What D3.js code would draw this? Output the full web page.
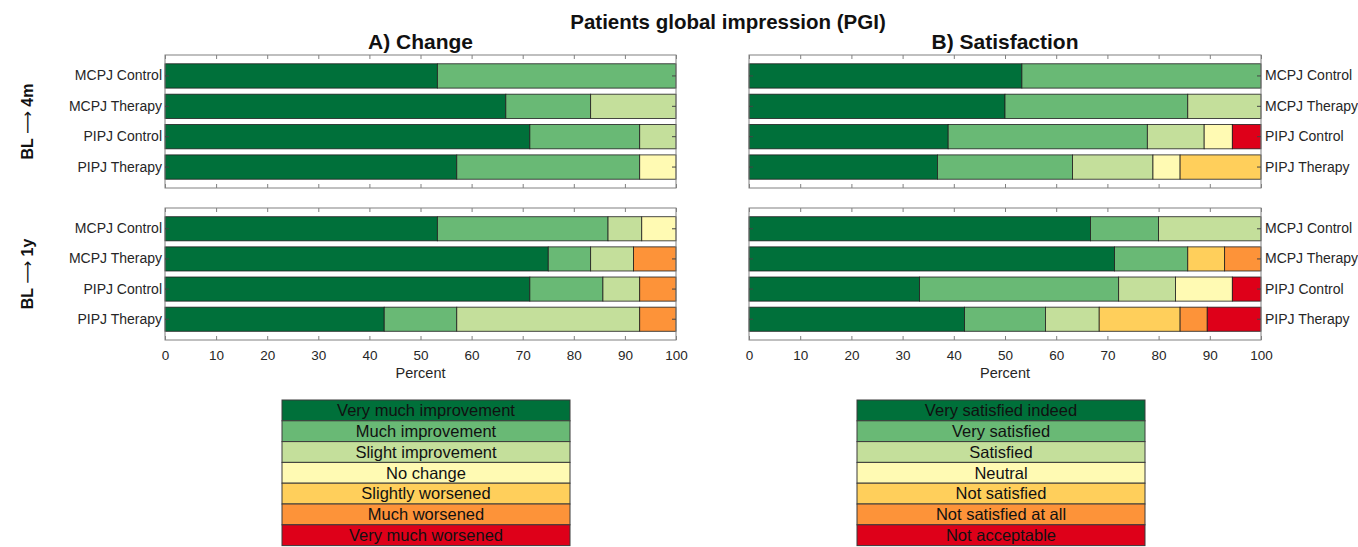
<!DOCTYPE html>
<html>
<head>
<meta charset="utf-8">
<script src="https://cdn.jsdelivr.net/npm/d3@7"></script>
<style>
  body { margin: 0; background: #fff; }
  text { font-family: "Liberation Sans", Arial, sans-serif; }
</style>
</head>
<body>
<div id="chart"></div>
<script>
"use strict";

// groups (rows of each panel)
const groups = ["MCPJ Control", "MCPJ Therapy", "PIPJ Control", "PIPJ Therapy"];

// answer levels, best to worst
const changeLevels = ["Very much improvement", "Much improvement", "Slight improvement",
  "No change", "Slightly worsened", "Much worsened", "Very much worsened"];
const satisfactionLevels = ["Very satisfied indeed", "Very satisfied", "Satisfied",
  "Neutral", "Not satisfied", "Not satisfied at all", "Not acceptable"];

const levelColors = ["#00703a", "#69b975", "#c4df9b", "#fffab3", "#ffcf5b", "#fd9339", "#de0019"];

// percent per level, one row per group
const change4m = [
  [53.3, 46.7, 0, 0, 0, 0, 0],
  [66.7, 16.6, 16.7, 0, 0, 0, 0],
  [71.4, 21.5, 7.1, 0, 0, 0, 0],
  [57.1, 35.8, 0, 7.1, 0, 0, 0]
];
const change1y = [
  [53.3, 33.4, 6.6, 6.7, 0, 0, 0],
  [75.0, 8.3, 8.4, 0, 0, 8.3, 0],
  [71.4, 14.3, 7.2, 0, 0, 7.1, 0],
  [42.9, 14.2, 35.8, 0, 0, 7.1, 0]
];
const satisfaction4m = [
  [53.3, 46.7, 0, 0, 0, 0, 0],
  [50.0, 35.7, 14.3, 0, 0, 0, 0],
  [38.9, 38.9, 11.1, 5.5, 0, 0, 5.6],
  [36.8, 26.4, 15.7, 5.3, 15.8, 0, 0]
];
const satisfaction1y = [
  [66.7, 13.3, 20.0, 0, 0, 0, 0],
  [71.4, 14.3, 0, 0, 7.2, 7.1, 0],
  [33.3, 38.9, 11.1, 11.1, 0, 0, 5.6],
  [42.1, 15.8, 10.5, 0, 15.8, 5.3, 10.5]
];

const xTicks = d3.range(0, 101, 10);

const W = 1358, H = 547;
const svg = d3.select("#chart").append("svg")
  .attr("width", W).attr("height", H);

const axisGrey = "#808080";
const labelColor = "#262626";

// main title + column titles
svg.append("text").attr("x", 728).attr("y", 29)
  .attr("text-anchor", "middle").attr("font-weight", "bold").attr("font-size", 20.5)
  .attr("fill", "#111").text("Patients global impression (PGI)");

const cols = [
  {title: "A) Change", x0: 165, x1: 676, labelSide: "left", levels: changeLevels, data: [change4m, change1y], legendX: 282},
  {title: "B) Satisfaction", x0: 749, x1: 1261, labelSide: "right", levels: satisfactionLevels, data: [satisfaction4m, satisfaction1y], legendX: 857}
];
const rows = [
  {pre: "BL ", post: " 4m", y0: 55, y1: 188, showX: false},
  {pre: "BL ", post: " 1y", y0: 208, y1: 340, showX: true}
];

rows.forEach(function(r) {
  const t = svg.append("text")
    .attr("transform", "translate(27," + ((r.y0 + r.y1) / 2) + ") rotate(-90)")
    .attr("text-anchor", "middle").attr("dy", "0.35em")
    .attr("font-weight", "bold").attr("font-size", 16).attr("fill", "#111");
  t.append("tspan").text(r.pre);
  t.append("tspan").attr("font-family", "DejaVu Sans").attr("font-weight", "normal").text("\u27F6");
  t.append("tspan").text(r.post);
});

const stack = d3.stack().keys(d3.range(7));

cols.forEach(function(c) {
  svg.append("text").attr("x", (c.x0 + c.x1) / 2).attr("y", 49)
    .attr("text-anchor", "middle").attr("font-weight", "bold").attr("font-size", 21)
    .attr("fill", "#111").text(c.title);

  const x = d3.scaleLinear().domain([0, 100]).range([c.x0, c.x1]);

  rows.forEach(function(r, ri) {
    const values = c.data[ri];
    const y = d3.scaleBand().domain(groups).range([r.y0, r.y1])
      .paddingInner(0.2).paddingOuter(0.29);
    const g = svg.append("g");

    g.append("rect").attr("x", c.x0).attr("y", r.y0)
      .attr("width", c.x1 - c.x0).attr("height", r.y1 - r.y0)
      .attr("fill", "#fff");

    const series = stack(values.map(function(v) {
      const o = {};
      v.forEach(function(p, k) { o[k] = p; });
      return o;
    }));

    series.forEach(function(s, k) {
      g.append("g").selectAll("rect")
        .data(s.map(function(d, i) { return {lo: d[0], hi: d[1], group: groups[i]}; })
          .filter(function(d) { return d.hi - d.lo > 0; }))
        .enter().append("rect")
        .attr("x", function(d) { return x(d.lo); })
        .attr("width", function(d) { return x(Math.min(d.hi, 100)) - x(d.lo); })
        .attr("y", function(d) { return y(d.group); })
        .attr("height", y.bandwidth())
        .attr("fill", levelColors[k])
        .attr("stroke", "#1e1e1e").attr("stroke-width", 0.8);
    });

    // box
    g.append("rect").attr("x", c.x0).attr("y", r.y0)
      .attr("width", c.x1 - c.x0).attr("height", r.y1 - r.y0)
      .attr("fill", "none").attr("stroke", axisGrey).attr("stroke-width", 1);

    // x ticks, inward on top and bottom
    const bottomAxis = d3.axisBottom(x).tickValues(xTicks).tickSizeInner(-4).tickSizeOuter(0)
      .tickPadding(10);
    const topAxis = d3.axisTop(x).tickValues(xTicks).tickSizeInner(-4).tickSizeOuter(0)
      .tickFormat("");
    const bx = g.append("g").attr("transform", "translate(0," + r.y1 + ")").call(bottomAxis);
    const tx = g.append("g").attr("transform", "translate(0," + r.y0 + ")").call(topAxis);
    [bx, tx].forEach(function(a) {
      a.select(".domain").remove();
      a.selectAll("line").attr("stroke", axisGrey);
    });
    bx.selectAll("text").attr("font-size", 13.5).attr("fill", labelColor)
      .attr("font-family", "Liberation Sans, Arial, sans-serif");
    if (!r.showX) bx.selectAll("text").remove();

    // y ticks, inward on both sides
    const leftAxis = d3.axisLeft(y).tickSizeInner(-4).tickSizeOuter(0).tickPadding(4);
    const rightAxis = d3.axisRight(y).tickSizeInner(-4).tickSizeOuter(0).tickPadding(4);
    const lx = g.append("g").attr("transform", "translate(" + c.x0 + ",0)").call(leftAxis);
    const rx = g.append("g").attr("transform", "translate(" + c.x1 + ",0)").call(rightAxis);
    [lx, rx].forEach(function(a) {
      a.select(".domain").remove();
      a.selectAll("line").attr("stroke", "#444");
      a.selectAll("text").attr("font-size", 14).attr("fill", labelColor)
        .attr("font-family", "Liberation Sans, Arial, sans-serif");
    });
    if (c.labelSide === "left") rx.selectAll("text").remove();
    else lx.selectAll("text").remove();
    // labels sit just outside the box
    lx.selectAll("text").attr("x", -3);
    rx.selectAll("text").attr("x", 4);

    if (r.showX) {
      g.append("text").attr("x", (c.x0 + c.x1) / 2).attr("y", 378)
        .attr("text-anchor", "middle").attr("font-size", 14.5).attr("fill", labelColor)
        .text("Percent");
    }
  });

  // legend
  const legendW = 288, rowH = 20.8, legendY = 400;
  const lg = svg.append("g").attr("transform", "translate(" + c.legendX + "," + legendY + ")");
  const item = lg.selectAll("g").data(c.levels).enter().append("g")
    .attr("transform", function(d, i) { return "translate(0," + (i * rowH) + ")"; });
  item.append("rect").attr("width", legendW).attr("height", rowH)
    .attr("fill", function(d, i) { return levelColors[i]; })
    .attr("stroke", "#3a3a3a").attr("stroke-width", 1);
  item.append("text").attr("x", legendW / 2).attr("y", rowH / 2).attr("dy", "0.35em")
    .attr("text-anchor", "middle").attr("font-size", 16.5).attr("fill", "#111")
    .text(function(d) { return d; });
});
</script>
</body>
</html>
